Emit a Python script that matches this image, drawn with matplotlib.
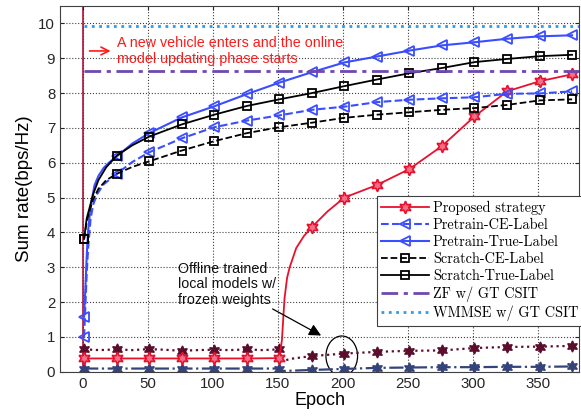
import numpy as np
import matplotlib
matplotlib.use("Agg")
import matplotlib.pyplot as plt
from matplotlib.patches import Ellipse

plt.rcParams['font.family'] = ['Liberation Sans', 'DejaVu Sans']

# marker epochs shared by all curves
mark_ep = [1, 26, 51, 76, 101, 126, 151, 176, 201, 226, 251, 276, 301, 326, 351, 376]

# Proposed strategy
ep_prop = [1, 26, 51, 76, 101, 126, 151, 153, 155, 157, 159, 164, 170, 176, 188, 201,
           226, 251, 276, 301, 326, 351, 376]
prop = [0.38, 0.38, 0.38, 0.38, 0.38, 0.38, 0.39, 0.9, 2.1, 2.7, 3.0, 3.55, 3.9, 4.15,
        4.6, 5.0, 5.36, 5.82, 6.48, 7.33, 8.05, 8.34, 8.54]

# Pretrain-CE-Label
ep_pce = [1, 2, 3, 4, 6, 8, 11, 16, 20, 26, 38, 51, 76, 101, 126, 151, 176, 201, 226,
          251, 276, 301, 326, 351, 376]
pce = [1.0, 1.9, 2.8, 3.5, 4.4, 4.8, 5.1, 5.38, 5.5, 5.68, 6.02, 6.3, 6.7, 7.02, 7.21,
       7.36, 7.52, 7.61, 7.74, 7.81, 7.85, 7.88, 7.98, 7.99, 8.05]

# Pretrain-True-Label
ep_ptl = [1, 2, 3, 4, 6, 9, 12, 16, 20, 26, 38, 51, 76, 101, 126, 151, 176, 201, 226,
          251, 276, 301, 326, 351, 376]
ptl = [1.58, 2.4, 3.3, 4.0, 4.75, 5.35, 5.62, 5.85, 6.0, 6.18, 6.55, 6.85, 7.3, 7.62,
       7.97, 8.3, 8.6, 8.88, 9.05, 9.22, 9.37, 9.46, 9.56, 9.63, 9.66]

# Scratch-CE-Label
ep_sce = [1, 3, 5, 8, 12, 18, 26, 38, 51, 76, 101, 126, 151, 176, 201, 226, 251, 276,
          301, 326, 351, 376]
sce = [3.8, 4.3, 4.6, 4.95, 5.25, 5.5, 5.68, 5.88, 6.04, 6.35, 6.62, 6.85, 7.02, 7.15,
       7.29, 7.38, 7.45, 7.52, 7.57, 7.66, 7.79, 7.82]

# Scratch-True-Label
ep_stl = [1, 3, 5, 8, 12, 18, 26, 38, 51, 76, 101, 126, 151, 176, 201, 226, 251, 276,
          301, 326, 351, 376]
stl = [3.82, 4.4, 4.68, 5.1, 5.5, 5.87, 6.2, 6.5, 6.75, 7.1, 7.38, 7.63, 7.82, 8.0,
       8.2, 8.39, 8.57, 8.72, 8.89, 8.98, 9.06, 9.1]

# offline trained local models with frozen weights
ep_off = [1, 13, 26, 38, 51, 63, 76, 88, 101, 113, 126, 138, 151, 153, 160, 176, 201,
          226, 251, 276, 301, 326, 351, 376]
off_a = [0.64, 0.62, 0.64, 0.62, 0.65, 0.63, 0.6, 0.62, 0.63, 0.62, 0.64, 0.62, 0.64,
         0.3, 0.37, 0.45, 0.52, 0.57, 0.6, 0.61, 0.68, 0.71, 0.72, 0.74]
ep_offb = [1, 26, 51, 76, 101, 126, 151, 153, 176, 201, 226, 251, 276, 301, 326, 351, 376]
off_b = [0.09, 0.09, 0.09, 0.09, 0.09, 0.09, 0.09, 0.02, 0.05, 0.08, 0.11, 0.12, 0.13,
         0.13, 0.14, 0.14, 0.15]

zf_rate = 8.63
wmmse_rate = 9.92
h_ep = [1, 382]


def marks(ep):
    return [i for i, e in enumerate(ep) if e in mark_ep]


hexa = (6, 1, 0)
red = '#e8112d'
blue = '#3a4dff'

fig = plt.figure(figsize=(5.81, 4.16), dpi=100)
ax = fig.add_axes([0.1033, 0.1065, 0.8937, 0.879])

ax.axvline(0, color='#b0123a', lw=1.2, zorder=1)

ax.plot(ep_off, off_a, ':', color='#5a0e2c', lw=1.6, marker=hexa, ms=8,
        markevery=marks(ep_off), mfc='#5a0e2c', mec='#5a0e2c')
ax.plot(ep_offb, off_b, '-.', color='#34447a', lw=1.6, marker=hexa, ms=8,
        markevery=marks(ep_offb), mfc='#34447a', mec='#34447a')

ax.plot(ep_prop, prop, '-', color=red, lw=1.3, marker=hexa, ms=9, mew=1.2,
        markevery=marks(ep_prop), mfc='#f0708a', mec=red, label='Proposed strategy')
ax.plot(ep_pce, pce, '--', color=blue, lw=1.5, marker='<', ms=7, mew=1.3,
        markevery=marks(ep_pce), mfc='none', mec=blue, label='Pretrain-CE-Label')
ax.plot(ep_ptl, ptl, '-', color=blue, lw=1.5, marker='<', ms=7, mew=1.3,
        markevery=marks(ep_ptl), mfc='none', mec=blue, label='Pretrain-True-Label')
ax.plot(ep_sce, sce, '--', color='black', lw=1.3, marker='s', ms=5.5, mew=1.3,
        markevery=marks(ep_sce), mfc='none', mec='black', label='Scratch-CE-Label')
ax.plot(ep_stl, stl, '-', color='black', lw=1.3, marker='s', ms=5.5, mew=1.3,
        markevery=marks(ep_stl), mfc='none', mec='black', label='Scratch-True-Label')
ax.plot(h_ep, [zf_rate, zf_rate], '-.', color='#7048b0', lw=2, dashes=(6, 2, 1.5, 2),
        label='ZF w/ GT CSIT')
ax.plot(h_ep, [wmmse_rate, wmmse_rate], ':', color='#2f9be8', lw=2,
        label='WMMSE w/ GT CSIT')

ax.set_xlim(-17.5, 381.5)
ax.set_ylim(0, 10.5)
ax.set_xticks(np.arange(0, 351, 50))
ax.set_yticks(np.arange(0, 11, 1))
ax.tick_params(direction='in', top=True, right=True, labelsize=10.8, length=3,
               colors='#262626')
ax.grid(True, ls=':', color='#404040', lw=0.8)
for s in ax.spines.values():
    s.set_color('#404040')
ax.set_xlabel('Epoch', fontsize=13, labelpad=1)
ax.set_ylabel('Sum rate(bps/Hz)', fontsize=13.5, labelpad=4)

ax.annotate('', xy=(23.5, 9.21), xytext=(3, 9.21),
            arrowprops=dict(arrowstyle='->', color='#ff1a1a', lw=1.2,
                            mutation_scale=14))
ax.text(26.5, 9.2, 'A new vehicle enters and the online\nmodel updating phase starts',
        color='#ff1a1a', fontsize=10.3, va='center', ha='left', linespacing=1.15)

ax.text(73.4, 2.51, 'Offline trained\nlocal models w/\nfrozen weights',
        color='#111111', fontsize=10.3, va='center', ha='left', linespacing=1.15)
ax.annotate('', xy=(185, 1.0), xytext=(144, 1.84),
            arrowprops=dict(arrowstyle='-|>', color='black', lw=0.9,
                            mutation_scale=18))
ax.add_patch(Ellipse((199, 0.45), 24.3, 1.15, fill=False, ec='black', lw=0.9))

leg = ax.legend(loc='upper left', bbox_to_anchor=(0.61, 0.481), borderaxespad=0,
                prop={'family': 'cmr10', 'size': 10.3}, handlelength=3.3,
                handletextpad=0.3, labelspacing=0.24, borderpad=0.32,
                fancybox=False, framealpha=1, edgecolor='#404040')
leg.get_frame().set_linewidth(0.8)

fig.savefig('out.png', dpi=100)
